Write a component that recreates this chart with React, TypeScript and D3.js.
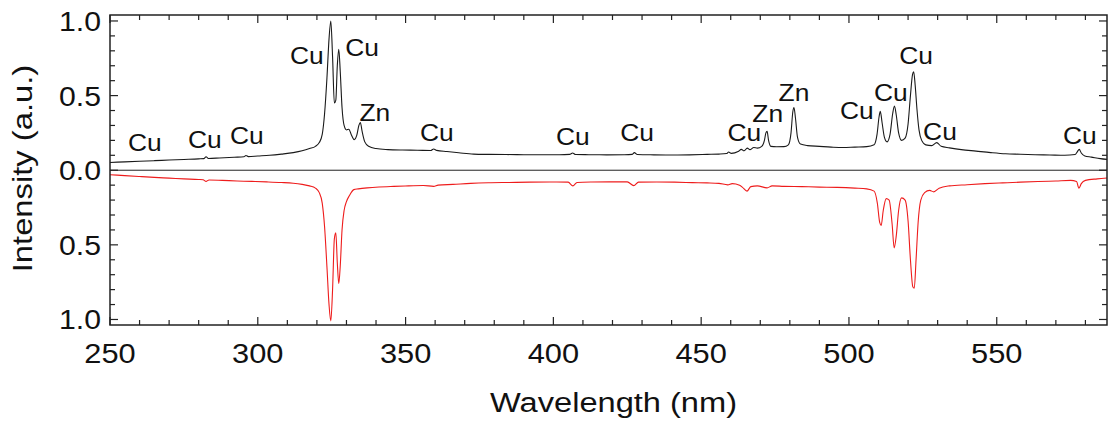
import React from 'react';
import * as d3 from 'd3';

// upper trace (black), [wavelength nm, intensity]
const upperSpectrum: [number, number][] = [
  [250, 0.052], [255, 0.056], [260, 0.06], [265, 0.064], [270, 0.068], [275, 0.072],
  [280, 0.076], [281.8, 0.078], [282.5, 0.09], [283.3, 0.079], [287, 0.082], [292, 0.087],
  [295.3, 0.09], [296, 0.099], [296.8, 0.091], [300, 0.095], [304, 0.1], [308, 0.108],
  [312, 0.118], [315, 0.13], [317.5, 0.145], [319.5, 0.16], [320.8, 0.185], [321.8, 0.24],
  [322.6, 0.38], [323.4, 0.62], [324.1, 0.88], [324.7, 1.0], [325.3, 0.76], [325.9, 0.45],
  [326.4, 0.47], [326.9, 0.7], [327.4, 0.81], [327.9, 0.66], [328.5, 0.42], [329.2, 0.3],
  [330, 0.27], [330.8, 0.275], [331.6, 0.24], [332.6, 0.205], [333.5, 0.235], [334.2, 0.3],
  [334.7, 0.32], [335.3, 0.26], [336.2, 0.19], [337.5, 0.16], [340, 0.145], [344, 0.138],
  [349, 0.135], [354, 0.134], [358.5, 0.132], [359.5, 0.142], [360.5, 0.133], [364, 0.125],
  [368, 0.117], [373, 0.108], [378, 0.106], [384, 0.105], [390, 0.104], [396, 0.104],
  [402, 0.104], [405.5, 0.106], [406.5, 0.115], [407.5, 0.105], [412, 0.104], [418, 0.103],
  [424, 0.104], [426.6, 0.106], [427.4, 0.118], [428.4, 0.105], [434, 0.103], [440, 0.102],
  [446, 0.103], [452, 0.106], [456, 0.108], [458.6, 0.112], [459.3, 0.122], [460.2, 0.113],
  [462.5, 0.125], [463.6, 0.14], [464.5, 0.13], [465.6, 0.148], [466.5, 0.138], [467.8, 0.152],
  [469, 0.148], [470.5, 0.16], [471.4, 0.2], [471.9, 0.25], [472.3, 0.26], [472.8, 0.2],
  [473.6, 0.16], [475.5, 0.157], [478, 0.158], [479.5, 0.17], [480.4, 0.25], [481, 0.39],
  [481.4, 0.42], [481.9, 0.35], [482.6, 0.22], [483.6, 0.175], [486, 0.165], [490, 0.16],
  [494, 0.155], [498, 0.152], [502, 0.155], [506, 0.158], [508.5, 0.17], [509.5, 0.24],
  [510.2, 0.36], [510.6, 0.395], [511.2, 0.32], [512, 0.22], [512.9, 0.19], [513.9, 0.24],
  [514.8, 0.38], [515.4, 0.43], [516, 0.37], [516.8, 0.25], [517.8, 0.2], [519, 0.215],
  [520, 0.31], [520.8, 0.5], [521.5, 0.64], [521.9, 0.66], [522.4, 0.57], [523, 0.41],
  [523.7, 0.27], [524.6, 0.2], [526, 0.17], [528, 0.165], [529.7, 0.185], [531.2, 0.16],
  [534, 0.15], [538, 0.138], [543, 0.128], [548, 0.118], [553, 0.11], [558, 0.107],
  [563, 0.104], [568, 0.102], [573, 0.1], [576.5, 0.105], [577.3, 0.125], [577.9, 0.14],
  [578.6, 0.115], [579.8, 0.095], [582, 0.088], [585, 0.078], [587.5, 0.072],
];

// lower trace (red), plotted downwards
const lowerSpectrum: [number, number][] = [
  [250, 0.03], [255, 0.036], [260, 0.042], [265, 0.048], [270, 0.053], [275, 0.058],
  [280, 0.062], [281.5, 0.064], [282.5, 0.075], [283.5, 0.065], [288, 0.068], [293, 0.072],
  [298, 0.075], [303, 0.078], [308, 0.082], [312, 0.087], [315, 0.095], [317.5, 0.105],
  [319.5, 0.12], [320.8, 0.15], [321.8, 0.22], [322.6, 0.38], [323.4, 0.65], [324.1, 0.9],
  [324.7, 1.01], [325.3, 0.8], [325.9, 0.46], [326.4, 0.42], [326.9, 0.62], [327.4, 0.76],
  [327.9, 0.64], [328.5, 0.4], [329.2, 0.27], [330, 0.21], [331, 0.17], [332.5, 0.13],
  [334, 0.125], [337, 0.118], [341, 0.112], [346, 0.108], [351, 0.105], [356, 0.102],
  [359.5, 0.108], [361, 0.1], [366, 0.095], [372, 0.088], [378, 0.084], [385, 0.082],
  [392, 0.08], [399, 0.079], [405, 0.08], [406.6, 0.105], [408, 0.082], [413, 0.079],
  [419, 0.078], [425, 0.078], [427.2, 0.103], [428.8, 0.08], [435, 0.079], [441, 0.08],
  [447, 0.083], [452, 0.085], [456, 0.088], [459, 0.098], [460.5, 0.09], [463, 0.1],
  [464, 0.115], [465.5, 0.14], [466.8, 0.11], [469, 0.105], [472.3, 0.118], [474, 0.105],
  [478, 0.108], [484, 0.11], [490, 0.113], [496, 0.115], [502, 0.12], [506, 0.125],
  [508.5, 0.14], [509.6, 0.22], [510.4, 0.35], [510.9, 0.37], [511.6, 0.27], [512.6, 0.19],
  [513.6, 0.2], [514.6, 0.36], [515.3, 0.52], [516, 0.44], [516.8, 0.27], [517.8, 0.185],
  [519, 0.2], [520, 0.34], [520.8, 0.6], [521.6, 0.78], [522.1, 0.79], [522.7, 0.6],
  [523.4, 0.35], [524.3, 0.2], [525.6, 0.15], [527.3, 0.135], [528.7, 0.145], [530.5, 0.12],
  [534, 0.105], [540, 0.097], [546, 0.09], [552, 0.085], [558, 0.08], [564, 0.076],
  [570, 0.072], [575, 0.068], [577, 0.075], [577.8, 0.12], [578.6, 0.09], [580, 0.068],
  [584, 0.058], [587.5, 0.052],
];

// peak annotations: element, wavelength of label centre, intensity of label centre
const peakNames = ['Cu', 'Cu', 'Cu', 'Cu', 'Cu', 'Zn', 'Cu', 'Cu', 'Cu', 'Cu', 'Zn', 'Zn', 'Cu', 'Cu', 'Cu', 'Cu', 'Cu'];
const peakLabelWl = [261.8, 282.1, 296.3, 316.6, 335.3, 339.6, 360.6, 406.6, 428.3, 464.6, 472.5, 481.4, 502.7, 514.2, 522.7, 530.8, 578.1];
const peakLabelLevel = [0.183, 0.209, 0.236, 0.772, 0.819, 0.387, 0.25, 0.224, 0.25, 0.252, 0.382, 0.518, 0.403, 0.524, 0.766, 0.257, 0.236];

const xTickLabels = [250, 300, 350, 400, 450, 500, 550];
const yTickValues = [1, 0.5, 0, -0.5, -1];
const yTickLabels = ['1.0', '0.5', '0.0', '0.5', '1.0'];

const W = 1108;
const H = 423;
const left = 110, right = 1107, top = 15, bottom = 325;
const font = '"Liberation Sans", Arial, Helvetica, sans-serif';

const Txt = ({ x, y, size, sx = 1.12, anchor = 'middle', rotate = 0, children }: any) => (
  <g transform={`translate(${x},${y}) rotate(${rotate}) scale(${sx},1)`}>
    <text fontFamily={font} fontSize={size} textAnchor={anchor} fill="#111">{children}</text>
  </g>
);

export default function App() {
  const x = d3.scaleLinear().domain([250, 587.3]).range([left, right]);
  const y = d3.scaleLinear().domain([-1.037, 1.04]).range([bottom, top]);

  const line = d3.line<[number, number]>()
    .x(d => x(d[0]))
    .y(d => y(d[1]))
    .curve(d3.curveMonotoneX);
  const lineDown = d3.line<[number, number]>()
    .x(d => x(d[0]))
    .y(d => y(-d[1]))
    .curve(d3.curveMonotoneX);

  const xTicks = d3.range(250, 587, 10);
  const yTicks = d3.range(-10, 11).map(k => k / 10);

  return (
    <svg width={W} height={H} style={{ position: 'absolute', left: 0, top: 0, background: '#fff' }}>
      <defs>
        <clipPath id="plot">
          <rect x={left} y={top} width={right - left} height={bottom - top} />
        </clipPath>
      </defs>

      {/* zero line */}
      <line x1={left} x2={right} y1={y(0)} y2={y(0)} stroke="#222" strokeWidth={1} />

      <g clipPath="url(#plot)">
        <path d={lineDown(lowerSpectrum) || ''} fill="none" stroke="#ee1c1c" strokeWidth={1.1} />
        <path d={line(upperSpectrum) || ''} fill="none" stroke="#1a1a1a" strokeWidth={1.1} />
      </g>

      {/* ticks, pointing inward on all four sides */}
      {xTicks.map(t => {
        const len = t % 50 === 0 ? 8 : 5;
        return (
          <g key={'xt' + t} stroke="#222" strokeWidth={1.2}>
            <line x1={x(t)} x2={x(t)} y1={bottom} y2={bottom - len} />
            <line x1={x(t)} x2={x(t)} y1={top} y2={top + len} />
          </g>
        );
      })}
      {yTicks.map(t => {
        const len = Math.abs(t * 10) % 5 === 0 ? 8 : 5;
        return (
          <g key={'yt' + t} stroke="#222" strokeWidth={1.2}>
            <line x1={left} x2={left + len} y1={y(t)} y2={y(t)} />
            <line x1={right} x2={right - len} y1={y(t)} y2={y(t)} />
          </g>
        );
      })}

      <rect x={left} y={top} width={right - left} height={bottom - top} fill="none" stroke="#222" strokeWidth={1.5} />

      {xTickLabels.map(t => (
        <Txt key={'xl' + t} x={x(t)} y={363} size={28} sx={1.1}>{t}</Txt>
      ))}
      {yTickValues.map((t, i) => (
        <Txt key={'yl' + i} x={101} y={y(t) + 10} size={27} sx={1.12} anchor="end">{yTickLabels[i]}</Txt>
      ))}

      {peakNames.map((n, i) => (
        <Txt key={'pk' + i} x={x(peakLabelWl[i])} y={y(peakLabelLevel[i]) + 8.5} size={24} sx={1.1}>{n}</Txt>
      ))}

      <Txt x={613.5} y={411.5} size={28} sx={1.165}>Wavelength (nm)</Txt>
      <Txt x={32} y={168.5} size={28} sx={1.17} rotate={-90}>Intensity (a.u.)</Txt>
    </svg>
  );
}
